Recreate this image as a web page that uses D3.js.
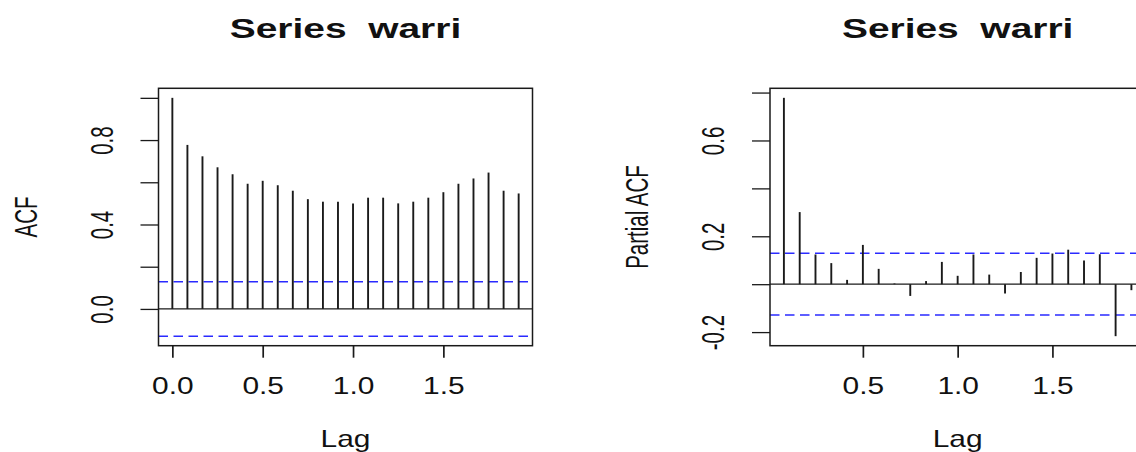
<!DOCTYPE html>
<html>
<head>
<meta charset="utf-8">
<script src="https://cdn.jsdelivr.net/npm/d3@7"></script>
<style>
  html, body { margin: 0; padding: 0; background: #fff; }
  svg { display: block; }
  text { font-family: "Liberation Sans", Arial, sans-serif; fill: #111; white-space: pre; }
</style>
</head>
<body>
<svg id="chart" width="1136" height="452"></svg>
<script>
// ---- data ----
const seriesTitle = "Series  warri";
// lags in months (frequency 12 -> lag in years = month / 12)
const acfLagMonths = [0,1,2,3,4,5,6,7,8,9,10,11,12,13,14,15,16,17,18,19,20,21,22,23];
const acfValues = [1.000, 0.777, 0.723, 0.671, 0.638, 0.593, 0.607, 0.586, 0.560, 0.520, 0.508, 0.508,
                   0.500, 0.527, 0.527, 0.500, 0.508, 0.527, 0.553, 0.593, 0.618, 0.646, 0.560, 0.547];
const pacfLagMonths = [1,2,3,4,5,6,7,8,9,10,11,12,13,14,15,16,17,18,19,20,21,22,23];
const pacfValues = [0.778, 0.301, 0.124, 0.088, 0.018, 0.164, 0.064, 0.003, -0.049, 0.013, 0.093, 0.035,
                    0.124, 0.040, -0.039, 0.051, 0.110, 0.128, 0.144, 0.099, 0.125, -0.217, -0.025];
const confLimit = 0.129;
const acfYTicks = [0, 0.2, 0.4, 0.6, 0.8, 1.0];
const acfYLabels = ["0.0", "", "0.4", "", "0.8", ""];
const pacfYTicks = [-0.2, 0, 0.2, 0.4, 0.6, 0.8];
const pacfYLabels = ["-0.2", "", "0.2", "", "0.6", ""];
const acfXTicks = [0, 0.5, 1.0, 1.5];
const pacfXTicks = [0.5, 1.0, 1.5];
const xTickLabels = {0: "0.0", 0.5: "0.5", 1: "1.0", 1.5: "1.5"};

// ---- drawing ----
const svg = d3.select("#chart");
const INK = "#1a1a1a";
const BLUE = "#2a2aff";

function panel(opts) {
  const { left, right, top, bottom, xDomain, yDomain, lags, vals, yTicks, yLabels, xTicks, yTitle, yLabelBase, yTitleBase, title } = opts;
  const x = d3.scaleLinear().domain(xDomain).range([left, right]);
  const y = d3.scaleLinear().domain(yDomain).range([bottom, top]);
  const g = svg.append("g");

  // zero line
  g.append("line")
    .attr("x1", left).attr("x2", right)
    .attr("y1", y(0)).attr("y2", y(0))
    .attr("stroke", INK).attr("stroke-width", 1.3);

  // confidence limits
  [confLimit, -confLimit].forEach(c => {
    g.append("line")
      .attr("x1", left).attr("x2", right)
      .attr("y1", y(c)).attr("y2", y(c))
      .attr("stroke", BLUE).attr("stroke-width", 1.5)
      .attr("stroke-dasharray", "9.5,5.5");
  });

  // bars
  g.selectAll("line.bar").data(lags.map((m, i) => ({ lag: m / 12, v: vals[i] })))
    .join("line").attr("class", "bar")
    .attr("x1", d => x(d.lag)).attr("x2", d => x(d.lag))
    .attr("y1", y(0)).attr("y2", d => y(d.v))
    .attr("stroke", INK).attr("stroke-width", 1.9);

  // box
  g.append("rect")
    .attr("x", left).attr("y", top)
    .attr("width", right - left).attr("height", bottom - top)
    .attr("fill", "none").attr("stroke", INK).attr("stroke-width", 1.5);

  // y axis
  const yAxis = d3.axisLeft(y).tickValues(yTicks).tickSize(18)
    .tickFormat((d, i) => yLabels[i]);
  const ya = g.append("g").attr("transform", `translate(${left},0)`).call(yAxis);
  ya.select(".domain").remove();
  ya.selectAll(".tick line").attr("stroke", INK).attr("stroke-width", 1.3);
  ya.selectAll(".tick text")
    .attr("x", null).attr("dy", null).attr("y", null)
    .attr("text-anchor", "middle")
    .attr("font-size", 20.5)
    .attr("fill", "#111")
    .attr("transform", `translate(${yLabelBase - left},0) scale(1.53,1) rotate(-90)`);

  // x axis
  const xAxis = d3.axisBottom(x).tickValues(xTicks).tickSize(12)
    .tickFormat(d => xTickLabels[d]);
  const xa = g.append("g").attr("transform", `translate(0,${bottom})`).call(xAxis);
  xa.select(".domain").remove();
  xa.selectAll(".tick line").attr("stroke", INK).attr("stroke-width", 1.7);
  xa.selectAll(".tick text")
    .attr("x", null).attr("dy", null).attr("y", null)
    .attr("text-anchor", "middle")
    .attr("font-size", 23)
    .attr("fill", "#111")
    .attr("transform", `translate(0,${394 - bottom}) scale(1.3,1)`);

  const cx = (left + right) / 2;
  const cy = (top + bottom) / 2;

  // x title
  g.append("text")
    .attr("text-anchor", "middle").attr("font-size", 23)
    .attr("transform", `translate(${cx},446.5) scale(1.3,1)`)
    .text("Lag");

  // y title
  g.append("text")
    .attr("text-anchor", "middle").attr("font-size", 20.5)
    .attr("transform", `translate(${yTitleBase},${cy}) scale(1.53,1) rotate(-90)`)
    .text(yTitle);

  // main title
  g.append("text")
    .attr("text-anchor", "middle").attr("font-size", 28).attr("font-weight", "bold")
    .attr("xml:space", "preserve")
    .attr("transform", `translate(${cx},37.8) scale(1.39,1)`)
    .text(title);
}

panel({
  left: 158.5, right: 532.5, top: 88.3, bottom: 345.7,
  xDomain: [-0.0767, 1.9933], yDomain: [-0.1742, 1.0452],
  lags: acfLagMonths, vals: acfValues,
  yTicks: acfYTicks, yLabels: acfYLabels, xTicks: acfXTicks,
  yTitle: "ACF", yLabelBase: 113, yTitleBase: 36.5, title: seriesTitle
});

panel({
  left: 770, right: 1145.3, top: 88.3, bottom: 345.7,
  xDomain: [0.01, 1.99], yDomain: [-0.2568, 0.8178],
  lags: pacfLagMonths, vals: pacfValues,
  yTicks: pacfYTicks, yLabels: pacfYLabels, xTicks: pacfXTicks,
  yTitle: "Partial ACF", yLabelBase: 724, yTitleBase: 648, title: seriesTitle
});
</script>
</body>
</html>
